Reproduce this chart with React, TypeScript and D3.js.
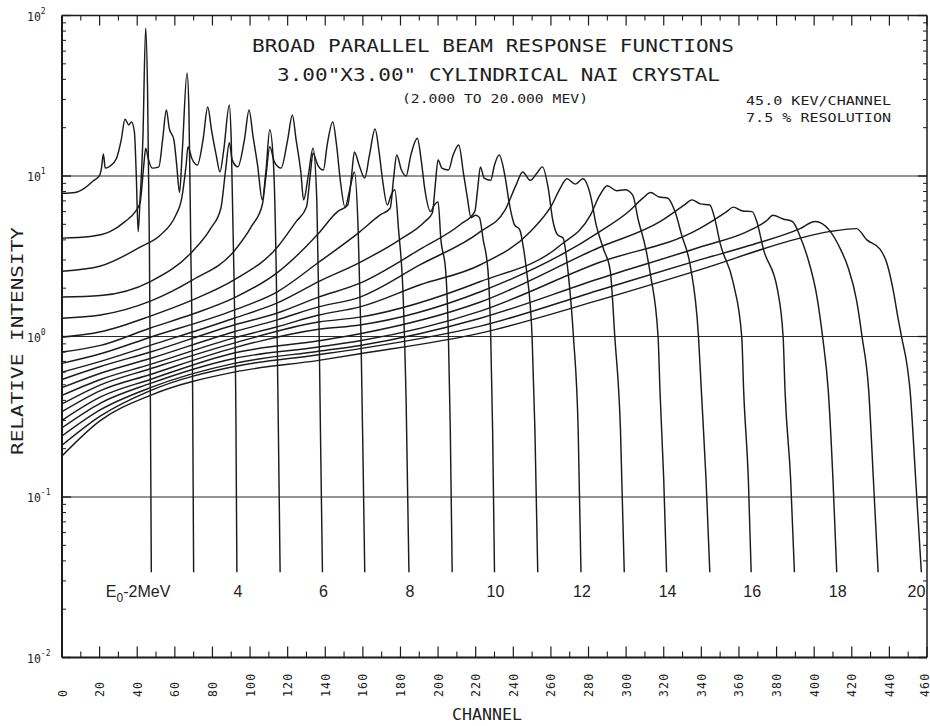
import React from "react";
import * as d3 from "d3";

// Incident gamma energies (MeV), one response curve each
const energies = [2, 3, 4, 5, 6, 7, 8, 9, 10, 11, 12, 13, 14, 15, 16, 17, 18, 19, 20];

// Channel / relative-intensity pairs, one pair of arrays per curve
const ch2 = [0, 7, 12, 16.5, 20, 21, 22, 23, 25.5, 29, 31.5, 33.5, 35.5, 37, 38.5, 39.5, 40.5, 41.5, 43, 44.5, 45.5, 46.5, 47, 47.5];
const iv2 = [7.8, 7.9, 8.4, 9.3, 10.1, 11.2, 13.7, 11.2, 11.5, 12.9, 16.8, 22.6, 20.8, 21.7, 18.8, 10.1, 4.5, 7.1, 16.8, 83.6, 34.3, 3.5, 0.4, 0.034];

const ch3 = [0, 15, 25.5, 33.5, 39, 41.5, 43.5, 44.5, 46, 48, 51.5, 53.5, 55.5, 57, 59.5, 61, 62.5, 64, 66.5, 67.5, 68.5, 69.5, 70];
const iv3 = [4.1, 4.2, 4.5, 5.2, 6.0, 6.8, 11.7, 14.9, 12.6, 11.2, 11.4, 16.8, 25.8, 19.9, 16.8, 11.7, 7.9, 14.5, 43.9, 25.8, 3.5, 0.4, 0.034];

const ch4 = [0, 20.5, 41.5, 52.5, 60.5, 63.5, 66, 67, 69, 72, 75, 77.5, 79.5, 82, 84, 86, 89, 90, 91.5, 92.5, 93];
const iv4 = [2.55, 2.75, 3.6, 4.3, 5.7, 7.1, 11.7, 15.2, 12.9, 11.7, 16.8, 26.9, 19.4, 13.5, 10.6, 14.5, 27.7, 16.8, 2.25, 0.3, 0.034];

const ch5 = [0, 20.5, 47, 69.5, 79, 84.5, 87, 89, 90.5, 93.5, 97, 99.5, 101.5, 104, 106.5, 108.5, 110.5, 112.5, 114, 115, 116];
const iv5 = [1.76, 1.8, 2.2, 3.4, 4.7, 6.3, 10.9, 16.1, 12.6, 11.4, 16.8, 25.8, 18.0, 11.7, 7.1, 10.9, 19.4, 11.7, 2.25, 0.3, 0.034];

const ch6 = [0, 20.5, 47, 69.5, 91.5, 101, 106.5, 108.5, 110.5, 113, 116.5, 120, 122.5, 124.5, 127, 128.5, 131, 133.5, 135.5, 136.5, 137.5, 138.5];
const iv6 = [1.3, 1.36, 1.66, 2.25, 3.4, 4.9, 6.6, 10.1, 15.2, 12.2, 11.2, 16.8, 24.0, 16.8, 10.6, 7.1, 10.1, 14.9, 7.1, 1.69, 0.23, 0.034];

const ch7 = [0, 20.5, 47, 69.5, 91.5, 114.5, 124.5, 130, 132, 133.5, 136, 139, 141, 144, 146, 148, 150.5, 153, 155.5, 157.5, 159, 160, 161];
const iv7 = [0.99, 1.07, 1.34, 1.69, 2.25, 3.6, 5.2, 6.4, 10.1, 13.9, 11.7, 10.9, 15.6, 21.7, 15.6, 9.4, 6.4, 8.2, 10.6, 4.6, 0.99, 0.2, 0.034];

const ch8 = [0, 20.5, 47, 69.5, 91.5, 114.5, 136.5, 146.5, 152, 154, 155.5, 158, 161, 163.5, 166.5, 168.5, 170.5, 173, 175, 177, 179, 181.5, 183, 184.5];
const iv8 = [0.8, 0.88, 1.13, 1.38, 1.74, 2.5, 4.4, 6.0, 6.6, 10.1, 14.1, 11.7, 9.7, 13.5, 19.6, 14.5, 9.4, 6.6, 7.6, 8.2, 4.6, 1.69, 0.4, 0.034];

const ch9 = [0, 20.5, 47, 91.5, 114.5, 136.5, 158.5, 169, 174.5, 176.5, 178, 180.5, 183, 185.5, 189, 191, 193, 196, 198, 200, 201.5, 204, 205.5, 206.5, 207.5];
const iv9 = [0.68, 0.78, 0.99, 1.46, 1.9, 2.9, 4.5, 5.7, 6.3, 10.1, 13.5, 10.9, 10.0, 13.5, 17.2, 12.6, 8.2, 6.0, 6.6, 6.9, 4.0, 2.6, 0.99, 0.26, 0.034];

const ch10 = [0, 20.5, 47, 91.5, 114.5, 136.5, 158.5, 179.5, 193, 197, 198.5, 200, 202, 205.5, 208, 211, 213.5, 215.5, 217.5, 220, 222, 224, 226.5, 228, 229, 230];
const iv10 = [0.6, 0.7, 0.88, 1.3, 1.62, 2.2, 2.9, 4.0, 5.2, 5.9, 8.8, 12.6, 11.2, 10.9, 13.5, 15.6, 10.4, 7.4, 5.5, 5.7, 5.5, 4.0, 2.6, 0.99, 0.26, 0.034];

const ch11 = [0, 20.5, 47, 91.5, 114.5, 136.5, 158.5, 190.5, 212, 219.5, 221, 222.5, 224.5, 228, 230, 232.5, 235.5, 238, 240.5, 243.5, 245.5, 247, 250, 251.5, 253];
const iv11 = [0.54, 0.65, 0.8, 1.18, 1.4, 1.76, 2.15, 3.5, 5.0, 6.0, 8.2, 11.4, 9.7, 9.4, 11.7, 13.5, 10.1, 6.6, 5.0, 4.6, 3.5, 2.6, 0.99, 0.26, 0.034];

const ch12 = [0, 20.5, 47, 91.5, 114.5, 136.5, 158.5, 190.5, 222.5, 235.5, 241.5, 245, 249, 252.5, 255.5, 258.5, 261, 263.5, 266.5, 269, 272, 274.5, 276];
const iv12 = [0.48, 0.59, 0.73, 1.07, 1.27, 1.53, 1.76, 2.8, 4.5, 6.1, 8.8, 10.6, 9.4, 10.4, 11.4, 8.5, 5.3, 4.3, 4.1, 2.6, 0.99, 0.26, 0.034];

const ch13 = [0, 20.5, 47, 91.5, 114.5, 136.5, 158.5, 190.5, 222.5, 249, 260.5, 265, 268.5, 273, 277, 281, 284, 288, 291.5, 294, 297, 299];
const iv13 = [0.43, 0.54, 0.67, 0.98, 1.15, 1.36, 1.53, 2.1, 2.8, 4.5, 6.6, 8.4, 9.6, 8.9, 9.6, 7.6, 5.0, 3.5, 2.6, 0.99, 0.26, 0.034];

const ch14 = [0, 20.5, 47, 91.5, 136.5, 158.5, 222.5, 265, 281, 286, 290, 295, 299.5, 303.5, 306.5, 310.5, 313, 317, 318, 320, 321.5];
const iv14 = [0.38, 0.5, 0.63, 0.91, 1.23, 1.32, 2.2, 3.7, 5.7, 7.6, 8.7, 8.1, 8.2, 7.6, 5.3, 3.5, 2.4, 0.99, 0.46, 0.128, 0.034];

const ch15 = [0, 20.5, 47, 91.5, 136.5, 158.5, 222.5, 286, 302, 309, 313, 317.5, 322, 326, 329.5, 334, 338.5, 340, 342.5, 344.5];
const iv15 = [0.34, 0.46, 0.58, 0.85, 1.11, 1.18, 1.9, 4.5, 6.1, 7.3, 7.9, 7.4, 7.3, 6.0, 4.3, 2.8, 0.99, 0.46, 0.128, 0.034];

const ch16 = [0, 20.5, 47, 91.5, 136.5, 158.5, 222.5, 286, 318, 331, 335, 339.5, 344.5, 347, 350, 357, 361.5, 362.5, 365, 366.5];
const iv16 = [0.3, 0.42, 0.54, 0.79, 0.94, 1.04, 1.64, 3.6, 5.2, 6.6, 7.1, 6.7, 6.6, 5.5, 3.8, 2.15, 0.99, 0.46, 0.128, 0.034];

const ch17 = [0, 20.5, 47, 91.5, 136.5, 158.5, 222.5, 286, 339, 353.5, 357, 362, 367, 369.5, 373, 380.5, 383.5, 384.5, 387.5, 389.5];
const iv17 = [0.27, 0.385, 0.51, 0.73, 0.86, 0.94, 1.44, 2.9, 4.7, 6.0, 6.4, 6.05, 6.0, 5.2, 3.5, 1.95, 0.99, 0.46, 0.128, 0.034];

const ch18 = [0, 20.5, 47, 91.5, 136.5, 158.5, 222.5, 286, 339, 366, 375, 378, 383.5, 388.5, 392.5, 396.5, 401.5, 404.5, 407.5, 410, 412];
const iv18 = [0.24, 0.35, 0.48, 0.68, 0.81, 0.88, 1.3, 2.3, 3.6, 4.6, 5.3, 5.7, 5.4, 5.2, 4.2, 3.1, 1.76, 0.99, 0.46, 0.128, 0.034];

const ch19 = [0, 20.5, 47, 91.5, 136.5, 158.5, 222.5, 286, 339, 366, 392.5, 400.5, 408, 413.5, 418, 422.5, 425.5, 429, 431.5, 434];
const iv19 = [0.21, 0.32, 0.46, 0.65, 0.77, 0.84, 1.16, 1.95, 3.0, 3.7, 4.7, 5.2, 4.6, 3.6, 2.7, 1.69, 0.99, 0.46, 0.128, 0.034];

const ch20 = [0, 20.5, 47, 91.5, 136.5, 158.5, 222.5, 286, 339, 392.5, 408, 422.5, 428, 435, 438.5, 442, 444.5, 446.5, 449.5, 451, 454, 457];
const iv20 = [0.18, 0.3, 0.43, 0.6, 0.71, 0.78, 1.05, 1.69, 2.6, 4.1, 4.5, 4.7, 4.0, 3.5, 2.9, 1.95, 1.32, 0.99, 0.65, 0.46, 0.128, 0.034];

const channelSets = [ch2, ch3, ch4, ch5, ch6, ch7, ch8, ch9, ch10, ch11, ch12, ch13, ch14, ch15, ch16, ch17, ch18, ch19, ch20];
const intensitySets = [iv2, iv3, iv4, iv5, iv6, iv7, iv8, iv9, iv10, iv11, iv12, iv13, iv14, iv15, iv16, iv17, iv18, iv19, iv20];

// Axes
const xTickLabels = [0, 20, 40, 60, 80, 100, 120, 140, 160, 180, 200, 220, 240, 260, 280, 300, 320, 340, 360, 380, 400, 420, 440, 460];
const xMinorTicks = [10, 30, 50, 70, 90, 110, 130, 150, 170, 190, 210, 230, 250, 270, 290, 310, 330, 350, 370, 390, 410, 430, 450];
const yDecades = [0.01, 0.1, 1, 10, 100];
const yExponents = ["-2", "-1", "0", "1", "2"];
const gridValues = [0.1, 1, 10];
const labelEnergies = [2, 4, 6, 8, 10, 12, 14, 16, 18, 20];

const titleLine1 = "BROAD PARALLEL BEAM RESPONSE FUNCTIONS";
const titleLine2 = "3.00\"X3.00\" CYLINDRICAL NAI CRYSTAL";
const rangeText = "(2.000  TO 20.000 MEV)";
const noteLine1 = "45.0 KEV/CHANNEL";
const noteLine2 = "7.5 % RESOLUTION";

const MONO = "'DejaVu Sans Mono', 'Liberation Mono', monospace";
const SANS = "'Liberation Sans', Arial, sans-serif";

export default function App() {
  const W = 930;
  const H = 726;
  const left = 62;
  const right = 927;
  const top = 15.5;
  const bottom = 657.5;

  const x = d3.scaleLinear().domain([0, 460]).range([left, right]);
  const y = d3.scaleLog().domain([0.01, 100]).range([bottom, top]);

  const line = d3
    .line<[number, number]>()
    .x((d) => x(d[0]))
    .y((d) => y(d[1]))
    .curve(d3.curveMonotoneX);

  const series = energies.map((e, i) => ({
    e,
    pts: channelSets[i].map((c, j) => [c, intensitySets[i][j]] as [number, number]),
  }));

  const minorY = y.ticks().filter((v) => !yDecades.some((d) => Math.abs(d - v) < 1e-9));
  const ink = "#1b1b1b";

  return (
    <svg
      width={W}
      height={H}
      viewBox={`0 0 ${W} ${H}`}
      style={{ position: "absolute", left: 0, top: 0, background: "#fff" }}
    >
      <rect x={0} y={0} width={W} height={H} fill="#fff" />

      {/* grid lines */}
      {gridValues.map((g) => (
        <line key={g} x1={left} x2={right} y1={y(g)} y2={y(g)} stroke="#2a2a2a" strokeWidth={1.2} />
      ))}

      {/* curves */}
      <g fill="none" stroke={ink} strokeWidth={1.45} strokeLinejoin="round">
        {series.map((s) => (
          <path key={s.e} d={line(s.pts) || ""} />
        ))}
      </g>

      {/* frame */}
      <line x1={left} x2={left} y1={top} y2={bottom} stroke={ink} strokeWidth={2} />
      <line x1={left} x2={right} y1={bottom} y2={bottom} stroke={ink} strokeWidth={2} />
      <line x1={left} x2={right} y1={top} y2={top} stroke={ink} strokeWidth={1.5} />
      <line x1={right} x2={right} y1={top} y2={bottom} stroke={ink} strokeWidth={1.5} />

      {/* x ticks (bottom & top, inward) */}
      {xTickLabels.map((t) => (
        <g key={"xt" + t}>
          <line x1={x(t)} x2={x(t)} y1={bottom} y2={bottom - 11} stroke={ink} strokeWidth={1.2} />
          <line x1={x(t)} x2={x(t)} y1={top} y2={top + 10} stroke={ink} strokeWidth={1.2} />
        </g>
      ))}
      {xMinorTicks.map((t) => (
        <g key={"xm" + t}>
          <line x1={x(t)} x2={x(t)} y1={bottom} y2={bottom - 6} stroke={ink} strokeWidth={1.1} />
          <line x1={x(t)} x2={x(t)} y1={top} y2={top + 5} stroke={ink} strokeWidth={1.1} />
        </g>
      ))}

      {/* y ticks (left & right, inward) */}
      {yDecades.map((d) => (
        <g key={"yd" + d}>
          <line x1={left} x2={left + 9} y1={y(d)} y2={y(d)} stroke={ink} strokeWidth={1.3} />
          <line x1={right} x2={right - 9} y1={y(d)} y2={y(d)} stroke={ink} strokeWidth={1.3} />
        </g>
      ))}
      {minorY.map((d) => (
        <g key={"ym" + d}>
          <line x1={left} x2={left + 4} y1={y(d)} y2={y(d)} stroke={ink} strokeWidth={1} />
          <line x1={right} x2={right - 4} y1={y(d)} y2={y(d)} stroke={ink} strokeWidth={1} />
        </g>
      ))}

      {/* x tick labels, rotated */}
      <g fontFamily={MONO} fontSize={11.5} fill="#222" letterSpacing={1.2}>
        {xTickLabels.map((t) => (
          <text
            key={"xl" + t}
            transform={`translate(${Math.min(x(t) + 4.5, 928.5)},697) rotate(-90)`}
            textAnchor="start"
          >
            {String(t)}
          </text>
        ))}
      </g>

      {/* y tick labels */}
      <g fontFamily={MONO} fill="#222">
        {yDecades.map((d, i) => (
          <text key={"yl" + d} x={27} y={y(d) + 5} fontSize={11.5}>
            10
            <tspan dy={-7} fontSize={8}>
              {yExponents[i]}
            </tspan>
          </text>
        ))}
      </g>

      {/* axis titles */}
      <text
        fontFamily={MONO}
        fontSize={15}
        fill="#222"
        textAnchor="middle"
        textLength={70}
        lengthAdjust="spacingAndGlyphs"
        x={487}
        y={720}
      >
        CHANNEL
      </text>
      <text
        fontFamily={MONO}
        fontSize={15}
        fill="#222"
        textAnchor="middle"
        textLength={228}
        lengthAdjust="spacingAndGlyphs"
        transform="translate(23,341) rotate(-90)"
      >
        RELATIVE INTENSITY
      </text>

      {/* titles */}
      <g fontFamily={MONO} fill="#1e1e1e">
        <text x={252} y={52} fontSize={17} textLength={482} lengthAdjust="spacingAndGlyphs">
          {titleLine1}
        </text>
        <text x={277} y={81} fontSize={17} textLength={443} lengthAdjust="spacingAndGlyphs">
          {titleLine2}
        </text>
        <text x={402} y={103} fontSize={12} textLength={186} lengthAdjust="spacingAndGlyphs">
          {rangeText}
        </text>
        <text x={746} y={105} fontSize={12} textLength={145} lengthAdjust="spacingAndGlyphs">
          {noteLine1}
        </text>
        <text x={746} y={122} fontSize={12} textLength={145} lengthAdjust="spacingAndGlyphs">
          {noteLine2}
        </text>
      </g>

      {/* energy labels under the vertical drops */}
      <g fontFamily={SANS} fontSize={16} fill="#222">
        {labelEnergies.map((e) => {
          const idx = energies.indexOf(e);
          const cs = channelSets[idx];
          const lx = x(cs[cs.length - 1]);
          if (e === 2) {
            return (
              <text key={"el" + e} x={lx + 19} y={597} textAnchor="end">
                E
                <tspan dy={5} fontSize={12}>
                  0
                </tspan>
                <tspan dy={-5}>-2MeV</tspan>
              </text>
            );
          }
          if (e === 20) {
            return (
              <text key={"el" + e} x={lx + 4} y={597} textAnchor="end">
                {String(e)}
              </text>
            );
          }
          return (
            <text key={"el" + e} x={lx + 1} y={597} textAnchor="middle">
              {String(e)}
            </text>
          );
        })}
      </g>
    </svg>
  );
}
